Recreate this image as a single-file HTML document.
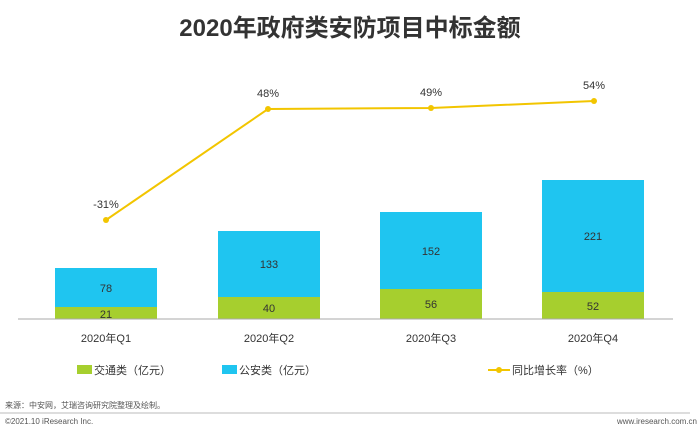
<!DOCTYPE html><html><head><meta charset="utf-8"><style>
body{margin:0;width:700px;height:433px;background:#fff;overflow:hidden;font-family:"Liberation Sans","Noto Sans CJK SC",sans-serif}
</style></head><body>
<svg width="700" height="433" xmlns="http://www.w3.org/2000/svg" font-family="Liberation Sans, Noto Sans CJK SC, sans-serif">
<text x="350" y="36" text-anchor="middle" font-size="24" font-weight="bold" fill="#333">2020年政府类安防项目中标金额</text>
<g>
<rect x="55" y="268" width="102" height="39" fill="#1fc5f0"/><rect x="55" y="307" width="102" height="12" fill="#a6cf2e"/>
<rect x="218" y="231" width="102" height="66" fill="#1fc5f0"/><rect x="218" y="297" width="102" height="22" fill="#a6cf2e"/>
<rect x="380" y="212" width="102" height="77" fill="#1fc5f0"/><rect x="380" y="289" width="102" height="30" fill="#a6cf2e"/>
<rect x="542" y="180" width="102" height="112" fill="#1fc5f0"/><rect x="542" y="292" width="102" height="27" fill="#a6cf2e"/>
</g>
<line x1="18" y1="319" x2="673" y2="319" stroke="#aaa" stroke-width="1"/>
<g font-size="11" fill="#333" text-anchor="middle">
<text x="106" y="292">78</text><text x="106" y="318">21</text>
<text x="269" y="268">133</text><text x="269" y="312">40</text>
<text x="431" y="255">152</text><text x="431" y="308">56</text>
<text x="593" y="240">221</text><text x="593" y="310">52</text>
<text x="106" y="342">2020年Q1</text><text x="269" y="342">2020年Q2</text><text x="431" y="342">2020年Q3</text><text x="593" y="342">2020年Q4</text>
<text x="106" y="208">-31%</text><text x="268" y="97">48%</text><text x="431" y="96">49%</text><text x="594" y="89">54%</text>
</g>
<polyline points="106,220 268,109 431,108 594,101" fill="none" stroke="#f2c500" stroke-width="2"/>
<g fill="#f2c500"><circle cx="106" cy="220" r="3"/><circle cx="268" cy="109" r="3"/><circle cx="431" cy="108" r="3"/><circle cx="594" cy="101" r="3"/></g>
<rect x="77" y="365" width="15" height="9" fill="#a6cf2e"/><text x="94" y="374" font-size="11" fill="#333">交通类（亿元）</text>
<rect x="222" y="365" width="15" height="9" fill="#1fc5f0"/><text x="239" y="374" font-size="11" fill="#333">公安类（亿元）</text>
<line x1="488" y1="370" x2="510" y2="370" stroke="#f2c500" stroke-width="2"/><circle cx="499" cy="370" r="3" fill="#f2c500"/>
<text x="512" y="374" font-size="11" fill="#333">同比增长率（%）</text>
<text x="5" y="408" font-size="8" fill="#555">来源：中安网，艾瑞咨询研究院整理及绘制。</text>
<line x1="0" y1="413" x2="690" y2="413" stroke="#bbb" stroke-width="1"/>
<text x="5" y="424" font-size="8" fill="#555">©2021.10 iResearch Inc.</text>
<text x="697" y="424" font-size="8" fill="#555" text-anchor="end">www.iresearch.com.cn</text>
</svg>
</body></html>
